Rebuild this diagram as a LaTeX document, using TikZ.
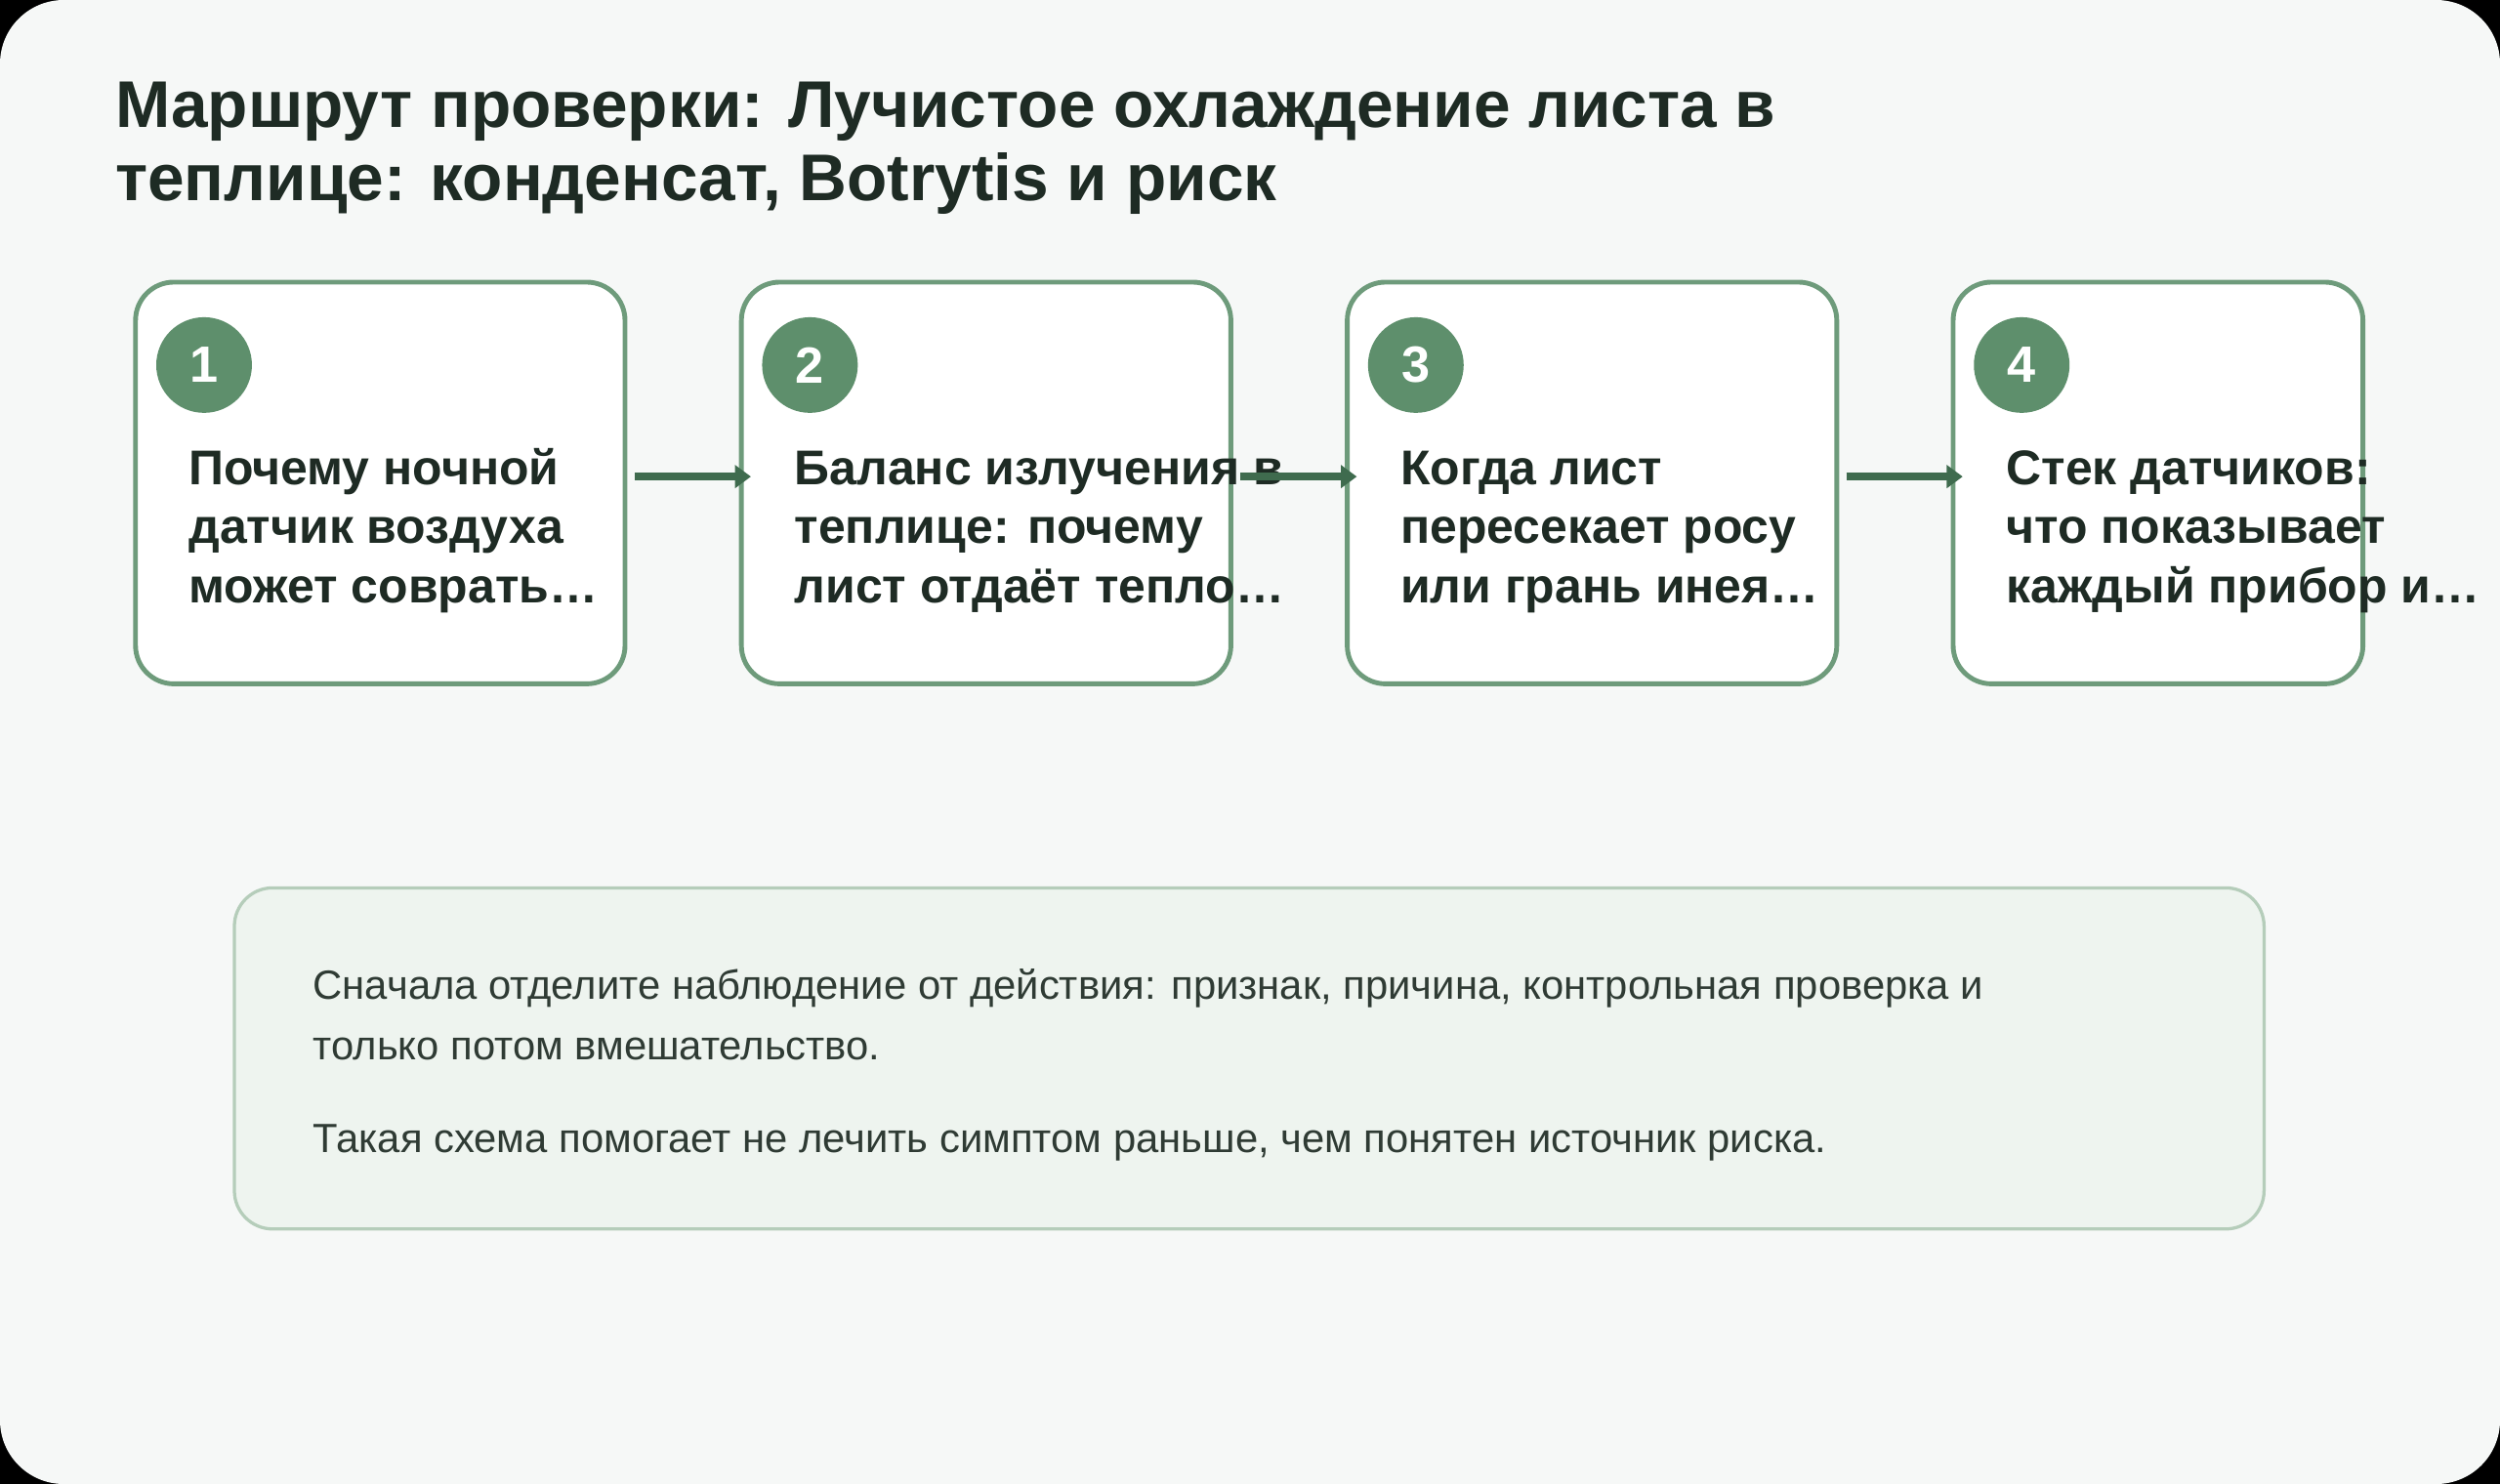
\documentclass[tikz,border=0pt]{standalone}
\usepackage{fontspec}
\setmainfont{Liberation Sans}
\usetikzlibrary{arrows.meta,positioning}
\definecolor{bgpage}{HTML}{F6F8F7}
\definecolor{cardline}{HTML}{6E9B7B}
\definecolor{badge}{HTML}{5E8F6C}
\definecolor{flow}{HTML}{3F6B4E}
\definecolor{inkdark}{HTML}{1E2B24}
\definecolor{notefill}{HTML}{EEF4EF}
\definecolor{noteline}{HTML}{B5CDBA}
\definecolor{noteink}{HTML}{2F3B34}
\begin{document}
\begin{tikzpicture}[x=0.5pt,y=-0.5pt]
  \tikzstyle{card}=[draw=cardline, line width=1.5pt, fill=white, rounded corners=12pt]
  \tikzstyle{badgenode}=[circle, fill=badge, minimum size=30pt, inner sep=0pt, text=white, font=\fontsize{16}{16}\selectfont\bfseries]
  \tikzstyle{steptext}=[anchor=base west, align=left, inner sep=0pt, text=inkdark, font=\fontsize{15.3}{18.5}\selectfont\bfseries]
  \tikzstyle{link}=[draw=flow, line width=2.5pt, -{Triangle[length=5pt,width=7pt]}]
  \tikzstyle{notetext}=[anchor=base west, inner sep=0pt, text=noteink, font=\fontsize{12.8}{19}\selectfont, align=left]
  \fill[black] (0,0) rectangle (1568,931);
  \fill[bgpage, rounded corners=20pt] (0,0) rectangle (1568,931);
  \useasboundingbox (0,0) rectangle (1568,931);
  % title
  \node[anchor=base west, inner sep=0pt, text=inkdark, align=left,
        font=\fontsize{20.7}{23}\selectfont\bfseries] (title) at (72,126)
        {Маршрут проверки: Лучистое охлаждение листа в\\теплице: конденсат, Botrytis и риск};
  % cards
  \foreach \n/\xa/\xb/\txt in {1/85/392/{Почему ночной\\датчик воздуха\\может соврать…},
      2/465/772/{Баланс излучения в\\теплице: почему\\лист отдаёт тепло…},
      3/845/1152/{Когда лист\\пересекает росу\\или грань инея…},
      4/1225/1482/{Стек датчиков:\\что показывает\\каждый прибор и…}}
  {
    \draw[card] (\xa,177) rectangle (\xb,429);
    \coordinate (in\n) at (\xa,299);
    \coordinate (out\n) at (\xb,299);
    \node[badgenode] (b\n) at (\xa+43,229) {\n};
    \node[steptext] (t\n) at (\xa+33,378) {\txt};
  }
  \foreach \a/\b in {1/2,2/3,3/4}
    \draw[link] ([xshift=3pt]out\a) -- ([xshift=3pt]in\b);
  % note
  \draw[draw=noteline, line width=1pt, fill=notefill, rounded corners=12pt] (147,557) rectangle (1420,771);
  \node[notetext] (n1) at (196,665) {Сначала отделите наблюдение от действия: признак, причина, контрольная проверка и\\только потом вмешательство.};
  \node[notetext] (n2) at (196,723) {Такая схема помогает не лечить симптом раньше, чем понятен источник риска.};
\end{tikzpicture}
\end{document}
